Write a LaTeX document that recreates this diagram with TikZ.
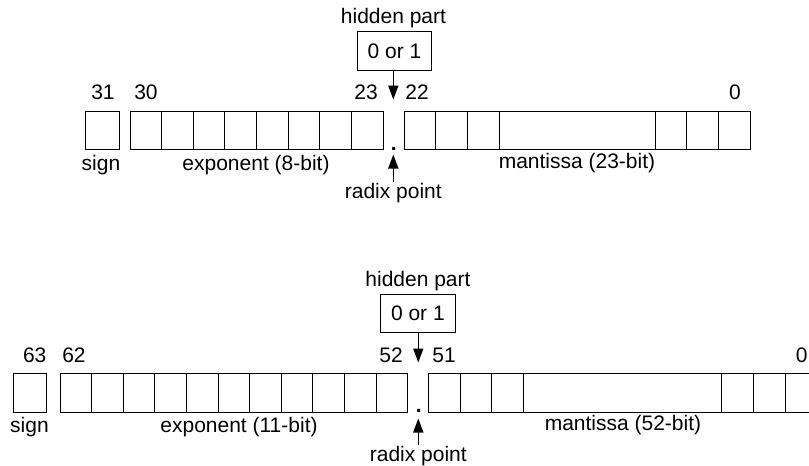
\documentclass[tikz,border=0pt]{standalone}
\usepackage{fontspec}
\setmainfont{Liberation Sans}
\usetikzlibrary{arrows.meta}
\begin{document}
\begin{tikzpicture}[x=1pt,y=-1pt,
  line width=1pt,
  every node/.style={font=\fontsize{21}{25}\selectfont},
  cell/.style={draw, rectangle, inner sep=0pt, outer sep=0pt, minimum height=38.8pt},
  lbl/.style={anchor=base, inner sep=0pt},
  valbox/.style={draw, rectangle, inner sep=0pt, minimum width=74.4pt, minimum height=38.4pt},
  ptr/.style={-{Triangle[length=14pt,width=10pt]}, line width=1.6pt}]
\clip (0,0) rectangle (809,466);

% ---------- single precision (32-bit) ----------
\node[cell, minimum width=34pt] (s1) at (102,130.5) {};
\foreach \i in {0,...,7}
  \node[cell, minimum width=31.66pt] (sx\i) at ({130+31.66*(\i+0.5)},130.5) {};
\foreach \i in {0,1,2}
  \node[cell, minimum width=31.7pt] (sm\i) at ({404+31.7*(\i+0.5)},130.5) {};
\node[cell, minimum width=155.7pt] (smid) at (577.15,130.5) {};
\foreach \i in {0,1,2}
  \node[cell, minimum width=31.7pt] (sn\i) at ({655+31.7*(\i+0.5)},130.5) {};

\node[lbl] (b31) at (103,99.5) {31};
\node[lbl] (b30) at (146,99.5) {30};
\node[lbl] (b23) at (366,99.5) {23};
\node[lbl] (b22) at (417,99.5) {22};
\node[lbl] (b0)  at (735,99.5) {0};

\node[lbl] (shid) at (393.5,23) {hidden part};
\node[valbox] (sbox) at (394.5,50.8) {};
\node[lbl] (sbit) at (394.5,58) {0 or 1};
\coordinate (sdown) at (393.3,99.5);
\draw[ptr] (sbox.south -| sdown) -- (sdown);

\node[lbl] (sdot) at (393.8,150) {\textbf{.}};
\coordinate (sup1) at (393.3,154.5);
\coordinate (sup0) at (393.3,181.5);
\draw[ptr] (sup0) -- (sup1);
\node[lbl] (srad) at (393.3,198) {radix point};

\node[lbl] (ssign) at (101,170.5) {sign};
\node[lbl] (sexp)  at (256,170.5) {exponent (8-bit)};
\node[lbl] (sman)  at (577,168.5) {mantissa (23-bit)};

% ---------- double precision (64-bit) ----------
\node[cell, minimum width=32.7pt] (d1) at (29.65,392.9) {};
\foreach \i in {0,...,10}
  \node[cell, minimum width=31.6pt] (dx\i) at ({60+31.6*(\i+0.5)},392.9) {};
\foreach \i in {0,1,2}
  \node[cell, minimum width=31.65pt] (dm\i) at ({428.5+31.65*(\i+0.5)},392.9) {};
\node[cell, minimum width=198.25pt] (dmid) at (622.6,392.9) {};
\foreach \i in {0,1,2}
  \node[cell, minimum width=31.65pt] (dn\i) at ({721.7+31.65*(\i+0.5)},392.9) {};

\node[lbl] (c63) at (34.7,362.5) {63};
\node[lbl] (c62) at (74,362.5) {62};
\node[lbl] (c52) at (391,362.5) {52};
\node[lbl] (c51) at (444,362.5) {51};
\node[lbl] (c0)  at (801.7,362.5) {0};

\node[lbl] (dhid) at (418,286) {hidden part};
\node[valbox] (dbox) at (417.9,313.5) {};
\node[lbl] (dbit) at (417.9,320.8) {0 or 1};
\coordinate (ddown) at (418.3,362.5);
\draw[ptr] (dbox.south -| ddown) -- (ddown);

\node[lbl] (ddot) at (418.8,412.3) {\textbf{.}};
\coordinate (dup1) at (418.3,418.5);
\coordinate (dup0) at (418.3,444.5);
\draw[ptr] (dup0) -- (dup1);
\node[lbl] (drad) at (418.3,461.5) {radix point};

\node[lbl] (dsign) at (29.5,432.5) {sign};
\node[lbl] (dexp)  at (239,432.5) {exponent (11-bit)};
\node[lbl] (dman)  at (623,430.5) {mantissa (52-bit)};
\end{tikzpicture}
\end{document}
